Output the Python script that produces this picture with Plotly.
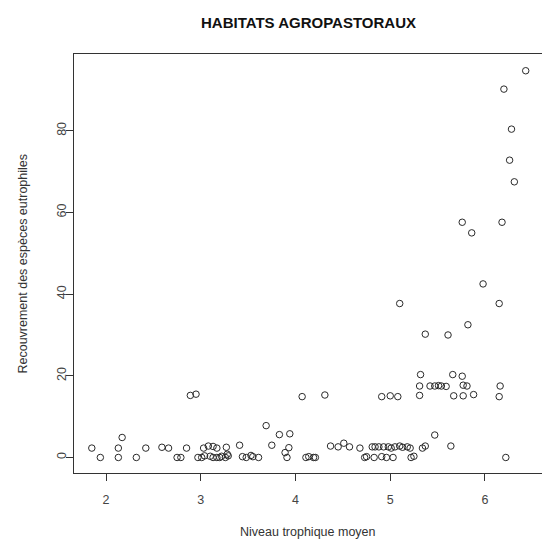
import plotly.graph_objects as go

# Mean trophic level of each relevé (x) and cover of eutrophic species in % (y)
niveau_trophique = [
    1.85, 1.94, 2.13, 2.17, 2.13, 2.32, 2.42, 2.59, 2.66, 2.75, 2.79, 2.85,
    2.89, 2.95, 2.97, 3.01, 3.03, 3.04, 3.08, 3.10, 3.13, 3.13, 3.17, 3.17,
    3.20, 3.22, 3.26, 3.27, 3.29, 3.28, 3.41, 3.44, 3.48, 3.53, 3.55, 3.61,
    3.69, 3.75, 3.83, 3.94, 3.89, 3.91, 3.93, 4.07, 4.31, 4.11, 4.14, 4.19,
    4.21, 4.37, 4.45, 4.51, 4.57, 4.68, 4.73, 4.75, 4.83,
    4.81, 4.84, 4.88, 4.93, 4.98, 5.01, 5.05, 5.10, 5.13, 5.18, 5.21,
    5.34, 5.37, 4.91, 4.96, 5.03, 5.22, 5.25,
    4.91, 5.00, 5.08, 5.31, 5.67, 5.77, 5.88, 6.15,
    5.31, 5.42, 5.47, 5.51, 5.54, 5.59, 5.77, 5.81, 6.16,
    5.47, 5.64, 6.22, 5.32, 5.66, 5.76,
    5.37, 5.61, 5.82, 5.10, 6.15, 5.98,
    5.76, 6.18, 5.86, 6.26, 6.31, 6.28, 6.20, 6.43,
]
recouvrement = [
    2.3, 0.0, 2.3, 4.9, 0.0, 0.0, 2.3, 2.5, 2.3, 0.0, 0.0, 2.3,
    15.2, 15.5, 0.0, 0.0, 2.3, 0.4, 2.8, 0.3, 2.7, 0.0, 2.3, 0.0,
    0.0, 0.3, 0.0, 2.5, 0.4, 0.8, 3.0, 0.2, 0.0, 0.5, 0.2, 0.0,
    7.8, 3.0, 5.6, 5.8, 1.2, 0.0, 2.4, 14.9, 15.3, 0.0, 0.2, 0.0,
    0.0, 2.8, 2.6, 3.5, 2.6, 2.3, 0.0, 0.2, 0.0,
    2.6, 2.6, 2.6, 2.6, 2.6, 2.3, 2.6, 2.8, 2.5, 2.6, 2.3,
    2.3, 2.8, 0.2, 0.0, 0.0, 0.0, 0.3,
    14.9, 15.1, 14.9, 15.2, 15.1, 15.1, 15.4, 14.9,
    17.5, 17.5, 17.5, 17.6, 17.5, 17.4, 17.7, 17.5, 17.5,
    5.5, 2.8, 0.0, 20.3, 20.3, 19.9,
    30.2, 30.0, 32.5, 37.7, 37.7, 42.5,
    57.6, 57.6, 55.0, 72.8, 67.5, 80.4, 90.2, 94.7,
]

x_ticks = [2, 3, 4, 5, 6]
y_ticks = [0, 20, 40, 60, 80]

titre = "HABITATS AGROPASTORAUX"
titre_x = "Niveau trophique moyen"
titre_y = "Recouvrement des espèces eutrophiles"

police = "Liberation Sans, Arial, sans-serif"
encre = "#333333"

fig = go.Figure(
    go.Scatter(
        x=niveau_trophique,
        y=recouvrement,
        mode="markers",
        marker=dict(symbol="circle-open", size=6.5, color="#2a2a2a",
                    line=dict(width=1, color="#2a2a2a")),
        hoverinfo="x+y",
    )
)

fig.update_layout(
    width=542,
    height=541,
    margin=dict(l=74, r=0, t=54, b=68),
    paper_bgcolor="white",
    plot_bgcolor="white",
    showlegend=False,
    font=dict(family=police, color=encre, size=12),
    xaxis=dict(
        range=[1.662, 6.602],
        tickvals=x_ticks,
        ticks="outside",
        ticklen=7,
        tickcolor=encre,
        tickfont=dict(size=12.5, color="#444444"),
        ticklabelstandoff=8,
        showgrid=False,
        zeroline=False,
        showline=True,
        linecolor=encre,
        linewidth=1,
        mirror=True,
    ),
    yaxis=dict(
        range=[-3.8, 98.8],
        tickvals=y_ticks,
        ticks="outside",
        ticklen=7,
        tickcolor=encre,
        tickangle=-90,
        tickfont=dict(size=12.5, color="#444444"),
        ticklabelstandoff=-5,
        showgrid=False,
        zeroline=False,
        showline=True,
        linecolor=encre,
        linewidth=1,
    ),
    annotations=[
        dict(text="<b>" + titre + "</b>", xref="paper", yref="paper",
             x=0.5, y=1.074, xanchor="center", yanchor="middle",
             showarrow=False, font=dict(size=15, color="#111111")),
        dict(text=titre_x, xref="paper", yref="paper",
             x=0.5, y=-0.1408, xanchor="center", yanchor="middle",
             showarrow=False, font=dict(size=12.5, color=encre)),
        dict(text=titre_y, xref="paper", yref="paper",
             x=-0.111, y=0.5, xanchor="center", yanchor="middle",
             textangle=-90, showarrow=False, font=dict(size=12.5, color=encre)),
    ],
)

fig.write_html("out.html")
